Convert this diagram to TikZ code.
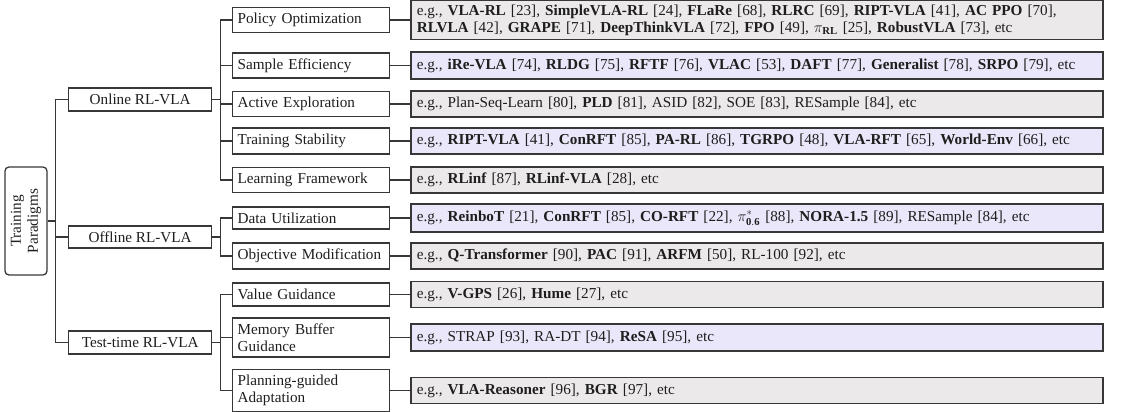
\RequirePackage{fix-cm}
\documentclass[tikz,border=0pt]{standalone}
\usepackage{fontspec}
\setmainfont{Liberation Serif}
\definecolor{linec}{RGB}{55,55,55}
\definecolor{txtc}{RGB}{30,30,30}
\definecolor{leafg}{RGB}{236,233,235}
\definecolor{leafl}{RGB}{233,231,249}
\tikzset{
  base/.style={draw=linec, line width=1.3pt, text=txtc, font=\fontsize{15.2}{17}\selectfont, inner sep=0pt},
  rootbox/.style={base, rounded corners=4pt, minimum width=42pt, minimum height=108pt, align=center},
  catbox/.style={base, anchor=west, minimum width=143pt, align=center},
  subbox/.style={base, anchor=west, text width=147pt, inner xsep=5pt, align=left},
  leafbox/.style={base, anchor=west, text width=680pt, inner xsep=6pt, align=left, line width=1.6pt},
  gleaf/.style={leafbox, fill=leafg},
  lleaf/.style={leafbox, fill=leafl},
  conn/.style={draw=linec, line width=1.2pt},
}
\begin{document}
\begin{tikzpicture}[x=1pt,y=-1pt]
\useasboundingbox (0,0) rectangle (1122,412);
% root
\node[rootbox] (root) at (26,221) {\rotatebox{90}{\begin{tabular}{@{}c@{}}Training\\Paradigms\end{tabular}}};
% categories
\node[catbox, minimum height=23pt] (online) at (68,99.5) {Online RL-VLA};
\node[catbox, minimum height=22pt] (offline) at (68,237) {Offline RL-VLA};
\node[catbox, minimum height=23pt] (test) at (68,342.5) {Test-time RL-VLA};
% sub categories
\node[subbox, minimum height=25pt] (po) at (232,20) {Policy Optimization};
\node[subbox, minimum height=25pt] (se) at (232,65.5) {Sample Efficiency};
\node[subbox, minimum height=25pt] (ae) at (232,104) {Active Exploration};
\node[subbox, minimum height=26pt] (ts) at (232,141) {Training Stability};
\node[subbox, minimum height=25pt] (lf) at (232,180) {Learning Framework};
\node[subbox, minimum height=22pt] (du) at (232,218) {Data Utilization};
\node[subbox, minimum height=26pt] (om) at (232,256) {Objective Modification};
\node[subbox, minimum height=23pt] (vg) at (232,294.5) {Value Guidance};
\node[subbox, minimum height=39pt] (mb) at (232,337.5) {Memory Buffer\\Guidance};
\node[subbox, minimum height=42pt] (pg) at (232,390.5) {Planning-guided\\Adaptation};
% leaves
\node[gleaf, minimum height=39pt] (pol) at (410,20) {e.g., \textbf{VLA-RL} [23], \textbf{SimpleVLA-RL} [24], \textbf{FLaRe} [68], \textbf{RLRC} [69], \textbf{RIPT-VLA} [41], \textbf{AC PPO} [70],\\\textbf{RLVLA} [42], \textbf{GRAPE} [71], \textbf{DeepThinkVLA} [72], \textbf{FPO} [49], $\pi_{\mathbf{RL}}$ [25], \textbf{RobustVLA} [73], etc};
\node[lleaf, minimum height=27pt] (sel) at (410,65.5) {e.g., \textbf{iRe-VLA} [74], \textbf{RLDG} [75], \textbf{RFTF} [76], \textbf{VLAC} [53], \textbf{DAFT} [77], \textbf{Generalist} [78], \textbf{SRPO} [79], etc};
\node[gleaf, minimum height=26pt] (ael) at (410,104) {e.g., Plan-Seq-Learn [80], \textbf{PLD} [81], ASID [82], SOE [83], RESample [84], etc};
\node[lleaf, minimum height=26pt] (tsl) at (410,141) {e.g., \textbf{RIPT-VLA} [41], \textbf{ConRFT} [85], \textbf{PA-RL} [86], \textbf{TGRPO} [48], \textbf{VLA-RFT} [65], \textbf{World-Env} [66], etc};
\node[gleaf, minimum height=26pt] (lfl) at (410,180) {e.g., \textbf{RLinf} [87], \textbf{RLinf-VLA} [28], etc};
\node[lleaf, minimum height=28pt] (dul) at (410,218) {e.g., \textbf{ReinboT} [21], \textbf{ConRFT} [85], \textbf{CO-RFT} [22], $\pi^{*}_{\mathbf{0.6}}$ [88], \textbf{NORA-1.5} [89], RESample [84], etc};
\node[gleaf, minimum height=26pt] (oml) at (410,256) {e.g., \textbf{Q-Transformer} [90], \textbf{PAC} [91], \textbf{ARFM} [50], RL-100 [92], etc};
\node[gleaf, minimum height=26pt] (vgl) at (410,294.5) {e.g., \textbf{V-GPS} [26], \textbf{Hume} [27], etc};
\node[lleaf, minimum height=27pt] (mbl) at (410,337.5) {e.g., STRAP [93], RA-DT [94], \textbf{ReSA} [95], etc};
\node[gleaf, minimum height=26pt] (pgl) at (410,390.5) {e.g., \textbf{VLA-Reasoner} [96], \textbf{BGR} [97], etc};
% connectors root -> categories
\foreach \c in {online,offline,test}
  \draw[conn] (root.east) -- ++(8,0) |- (\c.west);
\foreach \c in {po,se,ae,ts,lf}
  \draw[conn] (online.east) -- ++(8,0) |- (\c.west);
\foreach \c in {du,om}
  \draw[conn] (offline.east) -- ++(8,0) |- (\c.west);
\foreach \c in {vg,mb,pg}
  \draw[conn] (test.east) -- ++(8,0) |- (\c.west);
\foreach \a/\b in {po/pol,se/sel,ae/ael,ts/tsl,lf/lfl,du/dul,om/oml,vg/vgl,mb/mbl,pg/pgl}
  \draw[conn] (\a.east) -- (\b.west);
\end{tikzpicture}
\end{document}
